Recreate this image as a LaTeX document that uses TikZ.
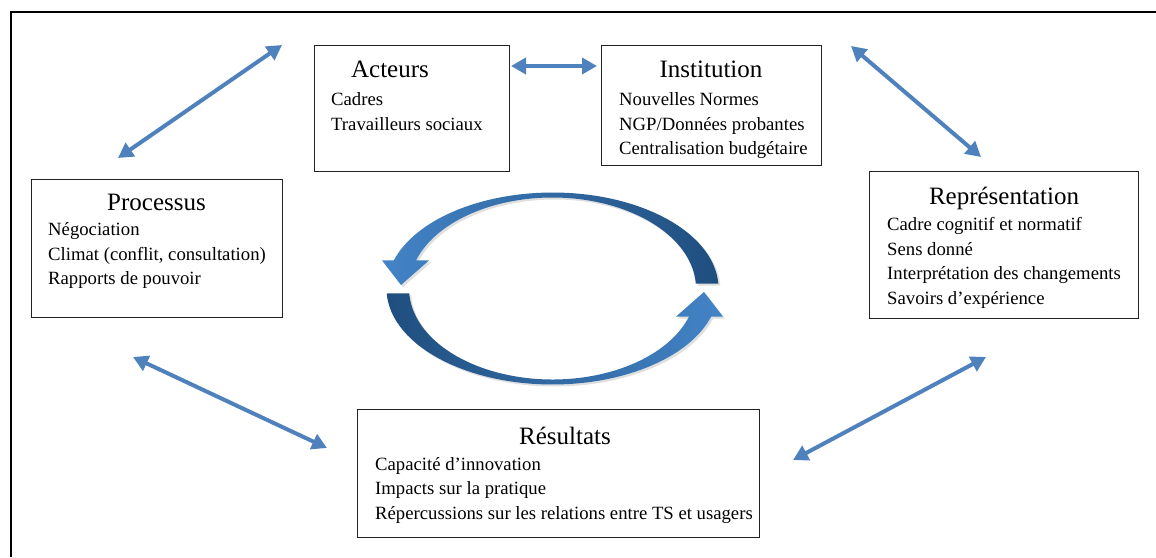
\documentclass[tikz,border=0pt]{standalone}
\usepackage{fontspec}
\setmainfont{Liberation Serif}
\usetikzlibrary{arrows.meta,shadows}
\definecolor{arrowblue}{HTML}{4F81BD}
\definecolor{arcLight}{HTML}{4384C7}
\definecolor{arcDark}{HTML}{1F4E7E}
\definecolor{boxline}{HTML}{222222}
\begin{document}
\begin{tikzpicture}[x=1pt,y=-1pt,
  box/.style={draw=boxline, line width=1.2pt, inner sep=0pt, anchor=north west, fill=white},
  title/.style={font=\fontsize{25}{30}\selectfont, anchor=base, inner sep=0pt},
  item/.style={font=\fontsize{18.7}{22}\selectfont, anchor=base west, inner sep=0pt},
  link/.style={arrowblue, line width=4pt, {Triangle[length=15pt,width=16pt]}-{Triangle[length=15pt,width=16pt]}},
  arcshape/.style={drop shadow={opacity=0.25, shadow xshift=2pt, shadow yshift=-2pt}}
]
\useasboundingbox (0,0) rectangle (1156,557);
% frame
\draw[line width=2.6pt] (11,557) -- (11,12) -- (1156,12);

% boxes
\node[box, minimum width=195pt, minimum height=126pt] (acteurs) at (314,45) {};
\node[title] (acteursT) at (390,77) {Acteurs};
\node[item] (a1) at (331,105) {Cadres};
\node[item] (a2) at (331,130) {Travailleurs sociaux};

\node[box, minimum width=220pt, minimum height=120pt] (institution) at (601,45) {};
\node[title] (institutionT) at (711,77) {Institution};
\node[item] (i1) at (619,105) {Nouvelles Normes};
\node[item] (i2) at (619,130) {NGP/Données probantes};
\node[item] (i3) at (619,154.5) {Centralisation budgétaire};

\node[box, minimum width=251pt, minimum height=138pt] (processus) at (31,179) {};
\node[title] (processusT) at (156.5,210) {Processus};
\node[item] (p1) at (48,235.5) {Négociation};
\node[item] (p2) at (48,260) {Climat (conflit, consultation)};
\node[item] (p3) at (48,284.5) {Rapports de pouvoir};

\node[box, minimum width=269pt, minimum height=147pt] (representation) at (869,171) {};
\node[title] (representationT) at (1004,204) {Représentation};
\node[item] (r1) at (887,230.5) {Cadre cognitif et normatif};
\node[item] (r2) at (887,255) {Sens donné};
\node[item] (r3) at (887,279.5) {Interprétation des changements};
\node[item] (r4) at (887,304) {Savoirs d’expérience};

\node[box, minimum width=402pt, minimum height=128pt] (resultats) at (357,409) {};
\node[title] (resultatsT) at (565,444.5) {Résultats};
\node[item] (s1) at (375,470) {Capacité d’innovation};
\node[item] (s2) at (375,494.5) {Impacts sur la pratique};
\node[item] (s3) at (375,519) {Répercussions sur les relations entre TS et usagers};

% arrow end points
\coordinate (l1a) at (118,158);
\coordinate (l1b) at (282,45);
\coordinate (l2a) at (511,66);
\coordinate (l2b) at (597,66);
\coordinate (l3a) at (851,46);
\coordinate (l3b) at (981,157);
\coordinate (l4a) at (133,357);
\coordinate (l4b) at (327,448);
\coordinate (l5a) at (793,460);
\coordinate (l5b) at (986,357);

\draw[link] (l1a) -- (l1b);
\draw[link] (l2a) -- (l2b);
\draw[link] (l3a) -- (l3b);
\draw[link] (l4a) -- (l4b);
\draw[link] (l5a) -- (l5b);

% cycle arrows
\path[arcshape, left color=arcLight, right color=arcDark]
  (695.8,283.7) -- (718.3,283.5)
  arc[start angle=-3, end angle=-163, x radius=166, y radius=96]
  -- (382,260.4) -- (401,285) -- (429,260.4) -- (416.0,260.4)
  arc[start angle=-162, end angle=-3, x radius=143.5, y radius=91] -- cycle;
\path[arcshape, left color=arcDark, right color=arcLight]
  (409.2,293.3) -- (386.7,293.5)
  arc[start angle=177, end angle=17, x radius=166, y radius=96]
  -- (723,316.6) -- (704,292) -- (676,316.6) -- (689,316.6)
  arc[start angle=18, end angle=177, x radius=143.5, y radius=91] -- cycle;
\end{tikzpicture}
\end{document}
